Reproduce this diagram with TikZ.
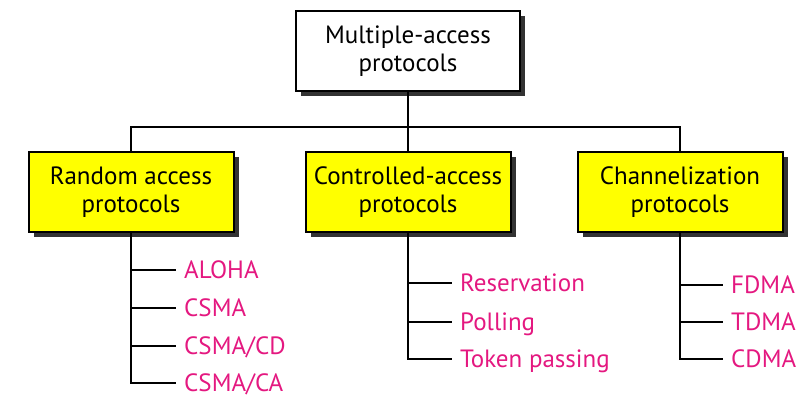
\documentclass[tikz,border=0pt]{standalone}
\usepackage{fontspec}
\setmainfont{PT Sans}
\usetikzlibrary{positioning, shadows}
\definecolor{leafpink}{RGB}{228,24,128}
\definecolor{boxyellow}{RGB}{255,255,0}

\tikzset{
  topbox/.style={draw, line width=2pt, fill=white, minimum width=224pt,
    minimum height=80pt, align=center, font=\fontsize{25}{28}\selectfont,
    drop shadow={shadow xshift=5pt, shadow yshift=-5pt, fill=black!80, opacity=1}},
  groupbox/.style={topbox, fill=boxyellow, minimum width=205pt},
  leaf/.style={anchor=west, inner xsep=8pt, inner ysep=0pt, text=leafpink,
    font=\fontsize{25}{28}\selectfont, text height=17pt, text depth=0pt},
  wire/.style={line width=2.8pt}
}

\begin{document}
\begin{tikzpicture}[x=1pt, y=-1pt]
\useasboundingbox (0,0) rectangle (806,405);

\node[topbox] (mac) at (408,51) {Multiple-access\\protocols};
\node[groupbox] (rand) at (131,192) {Random access\\protocols};
\node[groupbox] (ctrl) at (408,192) {Controlled-access\\protocols};
\node[groupbox] (chan) at (680,192) {Channelization\\protocols};

\coordinate (bus) at (408,127);
\draw[wire] (mac.south) -- (bus);
\draw[wire] (rand.north) |- (bus) -| (chan.north);
\draw[wire] (bus) -- (ctrl.north);

% random access
\node[leaf] (aloha) at (176,270) {ALOHA};
\node[leaf] (csma) at (176,308) {CSMA};
\node[leaf] (csmacd) at (176,346) {CSMA/CD};
\node[leaf] (csmaca) at (176,383) {CSMA/CA};
\draw[wire] (rand.south) |- (aloha.west);
\draw[wire] (rand.south) |- (csma.west);
\draw[wire] (rand.south) |- (csmacd.west);
\draw[wire] (rand.south) |- (csmaca.west);

% controlled access
\node[leaf] (resv) at (452,283) {Reservation};
\node[leaf] (poll) at (452,322) {Polling};
\node[leaf] (token) at (452,359) {Token passing};
\draw[wire] (ctrl.south) |- (resv.west);
\draw[wire] (ctrl.south) |- (poll.west);
\draw[wire] (ctrl.south) |- (token.west);

% channelization
\node[leaf] (fdma) at (723,285) {FDMA};
\node[leaf] (tdma) at (723,322) {TDMA};
\node[leaf] (cdma) at (723,359) {CDMA};
\draw[wire] (chan.south) |- (fdma.west);
\draw[wire] (chan.south) |- (tdma.west);
\draw[wire] (chan.south) |- (cdma.west);
\end{tikzpicture}
\end{document}
